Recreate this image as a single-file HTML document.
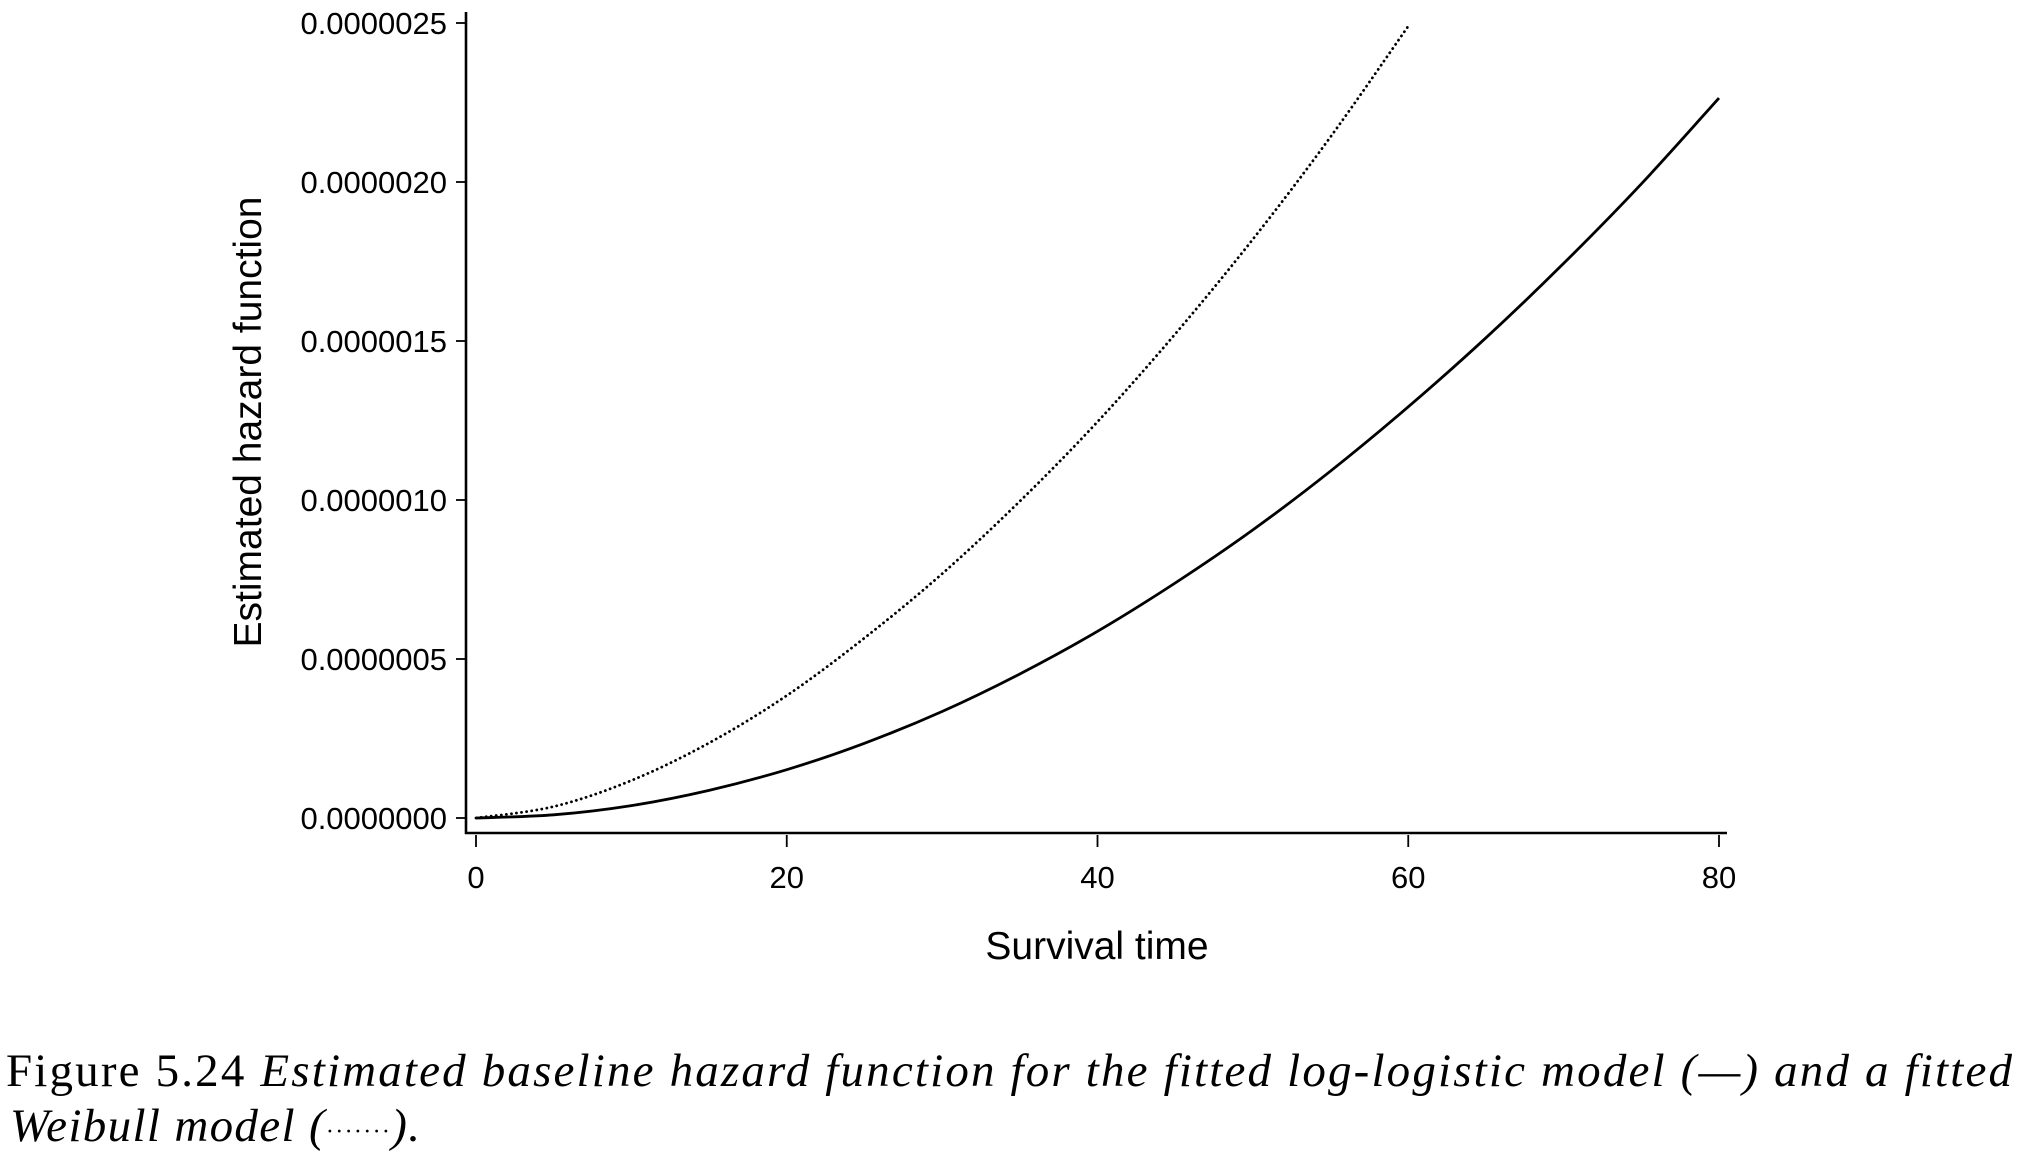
<!DOCTYPE html>
<html><head><meta charset="utf-8"><style>
html,body{margin:0;padding:0;background:#fff;}
svg{display:block;}
.tick{font-family:"Liberation Sans",Arial,sans-serif;font-size:31px;fill:#000;}
.title{font-family:"Liberation Sans",Arial,sans-serif;font-size:39px;fill:#000;}
.cap{font-family:"Liberation Serif",serif;font-size:47px;fill:#000;}
</style></head><body>
<svg id="chart" width="2019" height="1157" viewBox="0 0 2019 1157" xmlns="http://www.w3.org/2000/svg">
<g id="axes"></g>
<g id="series"></g>
<text class="title" x="1097" y="959" text-anchor="middle">Survival time</text>
<text class="title" transform="translate(261,422) rotate(-90)" text-anchor="middle">Estimated hazard function</text>
<text class="cap" x="6" y="1086" textLength="2006" lengthAdjust="spacing">Figure 5.24 <tspan font-style="italic">Estimated baseline hazard function for the fitted log-logistic model (—) and a fitted</tspan></text>
<text class="cap" x="10" y="1141" font-style="italic" textLength="410" lengthAdjust="spacing">Weibull model (<tspan font-size="24" font-style="normal" dy="-2">·······</tspan><tspan dy="2">).</tspan></text>
</svg>
<script>
const xTicks = [0, 20, 40, 60, 80];
const yTicks = [0, 0.5, 1.0, 1.5, 2.0, 2.5];
const yTickLabels = ["0.0000000","0.0000005","0.0000010","0.0000015","0.0000020","0.0000025"];
const logLogT = [0,5,10,15,20,25,30,35,40,45,50,55,60,65,70,75,80];
const logLogH = [0,0.010,0.039,0.087,0.152,0.235,0.335,0.453,0.587,0.739,0.906,1.091,1.293,1.510,1.744,1.994,2.264];
const weibullT = [0,5,10,15,20,25,30,35,40,45,50,55,60];
const weibullH = [0,0.036,0.118,0.236,0.385,0.566,0.768,0.996,1.246,1.522,1.820,2.142,2.49];

const NS = "http://www.w3.org/2000/svg";
const X = v => 476 + v * (1719 - 476) / 80;
const Y = v => 818 - v * (818 - 23) / 2.5;
const axes = document.getElementById('axes');
const series = document.getElementById('series');
function mk(tag, attrs, parent){const e=document.createElementNS(NS,tag);for(const k in attrs)e.setAttribute(k,attrs[k]);parent.appendChild(e);return e;}

let yl = mk('line',{x1:466,y1:12,x2:466,y2:834,stroke:'#000','stroke-width':2.6},axes);


let xl = mk('line',{x1:465,y1:833,x2:1727,y2:833,stroke:'#000','stroke-width':2.6},axes);



yTicks.forEach((v,i)=>{
  const t = mk('line',{x1:456,y1:Y(v),x2:466,y2:Y(v),stroke:'#000','stroke-width':1.8},axes);
  
  
  const l = mk('text',{x:447,y:Y(v)+11,'text-anchor':'end','class':'tick'},axes);
  l.textContent = yTickLabels[i];
  
  
});
xTicks.forEach(v=>{
  const t = mk('line',{x1:X(v),y1:835,x2:X(v),y2:847,stroke:'#000','stroke-width':1.8},axes);
  
  
  const l = mk('text',{x:X(v),y:888,'text-anchor':'middle','class':'tick'},axes);
  l.textContent = String(v);
  
  
});

function pathD(ts, hs){
  const p = ts.map((t,i)=>[X(t),Y(hs[i])]);
  let d = `M${p[0][0]},${p[0][1]}`;
  for(let i=0;i<p.length-1;i++){
    const p0=p[i-1]||p[i], p1=p[i], p2=p[i+1], p3=p[i+2]||p[i+1];
    const c1=[p1[0]+(p2[0]-p0[0])/6,p1[1]+(p2[1]-p0[1])/6];
    const c2=[p2[0]-(p3[0]-p1[0])/6,p2[1]-(p3[1]-p1[1])/6];
    d+=` C${c1[0]},${c1[1]} ${c2[0]},${c2[1]} ${p2[0]},${p2[1]}`;
  }
  return d;
}
const s1 = mk('path',{d:pathD(logLogT,logLogH),fill:'none',stroke:'#000','stroke-width':2.8},series);


const s2 = mk('path',{d:pathD(weibullT,weibullH),fill:'none',stroke:'#000','stroke-width':2.8,'stroke-dasharray':'0.1 5','stroke-linecap':'round'},series);


</script>
</body></html>
